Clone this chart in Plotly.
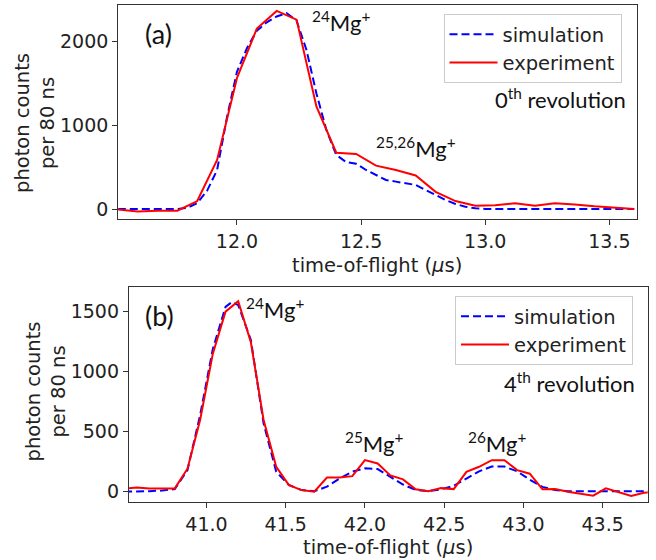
import plotly.graph_objects as go

W, H = 656, 560

# ---------------- data ----------------
# panel (a): 0th revolution
exp_a_t = [11.52, 11.60, 11.68, 11.76, 11.84, 11.92, 12.00, 12.08, 12.16, 12.24, 12.32, 12.40, 12.48,
           12.56, 12.64, 12.72, 12.80, 12.88, 12.96, 13.04, 13.12, 13.20, 13.28, 13.36, 13.44, 13.52, 13.60]
exp_a_y = [-5, -30, -20, -20, 95, 585, 1565, 2155, 2366, 2262, 1225, 672, 657,
           518, 465, 400, 205, 95, 40, 45, 68, 40, 68, 55, 32, 12, 0]

sim_a_t = [11.52, 11.60, 11.68, 11.76, 11.80, 11.84, 11.88, 11.92, 11.96, 12.00, 12.04, 12.08, 12.12, 12.16,
           12.20, 12.24, 12.28, 12.32, 12.36, 12.40, 12.44, 12.48, 12.52, 12.56, 12.60, 12.64, 12.68,
           12.72, 12.76, 12.80, 12.84, 12.88, 12.92, 12.96, 13.00, 13.20, 13.40, 13.60]
sim_a_y = [0, 0, 0, 0, 15, 70, 220, 466, 1100, 1640, 1920, 2130, 2230, 2300,
           2340, 2250, 1900, 1380, 945, 645, 560, 540, 466, 406, 347, 327, 305,
           287, 227, 167, 108, 60, 28, 8, 0, 0, 0, 0]

# panel (b): 4th revolution
exp_b_t = [40.48, 40.56, 40.64, 40.72, 40.80, 40.88, 40.96, 41.04, 41.12, 41.20, 41.28, 41.36, 41.44,
           41.52, 41.60, 41.68, 41.76, 41.84, 41.92, 42.00, 42.08, 42.16, 42.24, 42.32, 42.40, 42.48,
           42.56, 42.64, 42.72, 42.80, 42.88, 42.96, 43.04, 43.12, 43.20, 43.28, 43.36, 43.44, 43.52,
           43.60, 43.68, 43.76, 43.84]
exp_b_y = [25, 36, 28, 28, 28, 192, 600, 1150, 1500, 1588, 1245, 600, 208,
           55, 14, 0, 118, 118, 130, 264, 236, 136, 103, 20, 5, 30,
           22, 165, 208, 263, 263, 180, 150, 20, 22, 0, -15, -33, 28,
           -5, -35, -8, -5]

sim_b_t = [40.48, 40.56, 40.64, 40.72, 40.80, 40.88, 40.96, 41.04, 41.12, 41.16, 41.20, 41.28, 41.36,
           41.44, 41.52, 41.60, 41.68, 41.76, 41.84, 41.92, 42.00, 42.08, 42.16, 42.24, 42.32, 42.40,
           42.48, 42.56, 42.64, 42.72, 42.80, 42.88, 42.96, 43.04, 43.12, 43.20, 43.28, 43.40, 43.60, 43.84]
sim_b_y = [0, 0, 5, 10, 22, 180, 640, 1190, 1540, 1580, 1555, 1265, 570,
           167, 56, 14, 5, 42, 111, 167, 195, 189, 125, 60, 15, 5,
           20, 50, 110, 170, 210, 210, 170, 100, 40, 15, 5, 5, 5, 5]

x_title = "time-of-flight (<i>μ</i>s)"
y_title = "photon counts<br>per 80 ns"
legend_names = ["simulation", "experiment"]
panel_labels = ["(a)", "(b)"]
rev_labels = ["0<sup>th</sup> revolution", "4<sup>th</sup> revolution"]

# ---------------- figure ----------------
RED = "#ff0000"
BLUE = "#0000ff"
DV = "DejaVu Sans"
TICKFONT = dict(family=DV, size=19, color="#222")
ISOFONT = dict(family="Lato", size=22, color="#111")


def px_x(px):
    return px / W


def px_y(py):
    return (H - py) / H


fig = go.Figure()

fig.add_trace(go.Scatter(x=sim_a_t, y=sim_a_y, mode="lines", name=legend_names[0],
                         line=dict(color=BLUE, width=2, dash="8px,4px"),
                         xaxis="x", yaxis="y", legend="legend"))
fig.add_trace(go.Scatter(x=exp_a_t, y=exp_a_y, mode="lines", name=legend_names[1],
                         line=dict(color=RED, width=2),
                         xaxis="x", yaxis="y", legend="legend"))
fig.add_trace(go.Scatter(x=sim_b_t, y=sim_b_y, mode="lines", name=legend_names[0],
                         line=dict(color=BLUE, width=2, dash="8px,4px"),
                         xaxis="x2", yaxis="y2", legend="legend2"))
fig.add_trace(go.Scatter(x=exp_b_t, y=exp_b_y, mode="lines", name=legend_names[1],
                         line=dict(color=RED, width=2),
                         xaxis="x2", yaxis="y2", legend="legend2"))

axis_common = dict(showline=True, mirror=True, linecolor="#333", linewidth=1.3,
                   ticks="outside", ticklen=5, tickwidth=1.2, tickcolor="#333",
                   showgrid=False, zeroline=False, tickfont=TICKFONT)

legend_common = dict(xanchor="left", yanchor="top",
                     bordercolor="#cccccc", borderwidth=1, bgcolor="white",
                     font=dict(family=DV, size=19.5, color="#222"),
                     itemwidth=48, tracegroupgap=0)

fig.update_layout(
    width=W, height=H,
    margin=dict(l=0, r=0, t=0, b=0),
    paper_bgcolor="white", plot_bgcolor="white",
    xaxis=dict(domain=[px_x(118.3), px_x(636.7)], range=[11.522, 13.61],
               tickvals=[12.0, 12.5, 13.0, 13.5], ticktext=["12.0", "12.5", "13.0", "13.5"],
               anchor="y", **axis_common),
    yaxis=dict(domain=[px_y(219.3), px_y(5)], range=[-123, 2437],
               tickvals=[0, 1000, 2000], anchor="x", **axis_common),
    xaxis2=dict(domain=[px_x(129), px_x(647.7)], range=[40.511, 43.784],
                tickvals=[41.0, 41.5, 42.0, 42.5, 43.0, 43.5],
                ticktext=["41.0", "41.5", "42.0", "42.5", "43.0", "43.5"],
                anchor="y2", **axis_common),
    yaxis2=dict(domain=[px_y(501.7), px_y(287.3)], range=[-83, 1703],
                tickvals=[0, 500, 1000, 1500], anchor="x2", **axis_common),
    legend=dict(x=px_x(443.5), y=px_y(14), **legend_common),
    legend2=dict(x=px_x(455), y=px_y(296), **legend_common),
    showlegend=True,
)

ann = []
# axis titles
ann.append(dict(x=px_x(377), y=px_y(265), text=x_title, font=dict(family=DV, size=19.5, color="#222")))
ann.append(dict(x=px_x(388), y=px_y(547), text=x_title, font=dict(family=DV, size=19.5, color="#222")))
ann.append(dict(x=px_x(34.5), y=px_y(123.5), text=y_title, textangle=-90,
                font=dict(family=DV, size=19.5, color="#222")))
ann.append(dict(x=px_x(45), y=px_y(391.5), text=y_title, textangle=-90,
                font=dict(family=DV, size=19.5, color="#222")))
# panel labels
ann.append(dict(x=px_x(158), y=px_y(33), text=panel_labels[0], font=dict(family="Lato", size=27, color="#111")))
ann.append(dict(x=px_x(159), y=px_y(315), text=panel_labels[1], font=dict(family="Lato", size=27, color="#111")))
# isotope labels
ann.append(dict(x=px_x(341), y=px_y(22), text="<sup>24</sup>Mg<sup>+</sup>", font=ISOFONT))
ann.append(dict(x=px_x(416), y=px_y(148), text="<sup>25,26</sup>Mg<sup>+</sup>", font=ISOFONT))
ann.append(dict(x=px_x(275), y=px_y(308), text="<sup>24</sup>Mg<sup>+</sup>", font=ISOFONT))
ann.append(dict(x=px_x(374), y=px_y(442), text="<sup>25</sup>Mg<sup>+</sup>", font=ISOFONT))
ann.append(dict(x=px_x(497), y=px_y(442), text="<sup>26</sup>Mg<sup>+</sup>", font=ISOFONT))
# revolution labels
ann.append(dict(x=px_x(560), y=px_y(98), text=rev_labels[0], font=dict(family="Lato", size=22, color="#111")))
ann.append(dict(x=px_x(569), y=px_y(382), text=rev_labels[1], font=dict(family="Lato", size=22, color="#111")))

for a in ann:
    a.update(xref="paper", yref="paper", xanchor="center", yanchor="middle", showarrow=False)
fig.update_layout(annotations=ann)

fig.write_html("out.html", config={"displayModeBar": False},
               post_script="document.body.style.margin='0';document.body.style.padding='0';")
